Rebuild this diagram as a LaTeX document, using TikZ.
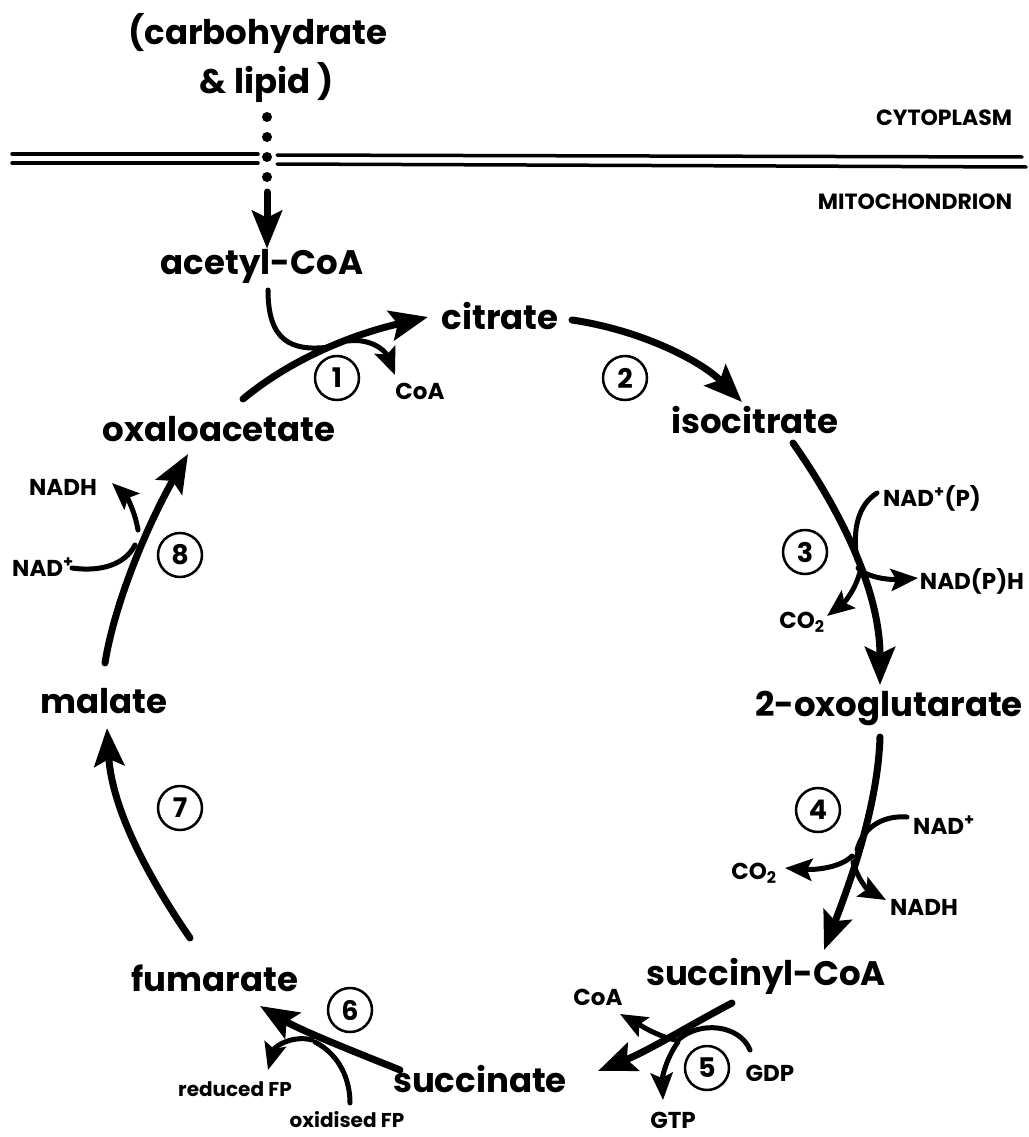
\documentclass[tikz,border=0pt]{standalone}
\usepackage{fontspec}
\setmainfont{Poppins}
\usetikzlibrary{arrows.meta}
\begin{document}
\begin{tikzpicture}[x=1pt,y=-1pt,
  met/.style={font=\fontsize{34}{38}\selectfont\bfseries, inner sep=0pt},
  sm/.style={font=\fontsize{23}{25}\selectfont\bfseries, inner sep=0pt},
  fp/.style={font=\fontsize{20}{22}\selectfont\bfseries, inner sep=0pt},
  comp/.style={font=\fontsize{22}{24}\selectfont\bfseries, inner sep=0pt},
  num/.style={circle, draw, line width=2.5pt, minimum size=44pt, inner sep=0pt, font=\fontsize{27}{27}\selectfont\bfseries},
  main/.style={line width=7pt, line cap=round, -{Stealth[length=38pt,width=30pt,inset=7pt]}},
  side/.style={line width=5pt, line cap=round, -{Stealth[length=27pt,width=22pt,inset=5pt]}},
  plain/.style={line width=5pt, line cap=round},
  memb/.style={line width=3.5pt, line cap=round}]
\useasboundingbox (0,0) rectangle (1028,1137);

% compartments
\draw[memb] (12,154) -- (258,154);
\draw[memb] (12,163) -- (258,163);
\draw[memb] (277,155) -- (1022,157);
\draw[memb] (277,164) -- (1026,167);
\node[comp] (cyto) at (944,118) {CYTOPLASM};
\node[comp] (mito) at (915,202) {MITOCHONDRION};

% metabolites
\node[met] (carb) at (258,33) {(carbohydrate};
\node[met] (lip) at (267,83) {\& lipid )};
\node[met] (acet) at (262,266) {acetyl-CoA};
\node[met] (cit) at (500,316) {citrate};
\node[met] (iso) at (755,420) {isocitrate};
\node[met] (oxg) at (889,708) {2-oxoglutarate};
\node[met] (sca) at (766,976) {succinyl-CoA};
\node[met] (suc) at (480,1079) {succinate};
\node[met] (fum) at (215,978) {fumarate};
\node[met] (mal) at (104,701) {malate};
\node[met] (oaa) at (219,429) {oxaloacetate};

% numbers
\node[num] (n1) at (337,378) {1};
\node[num] (n2) at (625,378) {2};
\node[num] (n3) at (805,552) {3};
\node[num] (n4) at (818,810) {4};
\node[num] (n5) at (707,1068) {5};
\node[num] (n6) at (350,1010) {6};
\node[num] (n7) at (180,808) {7};
\node[num] (n8) at (180,555) {8};

% small labels
\node[sm] (coa1) at (420,391) {CoA};
\node[sm] (nadp) at (932,498) {NAD\textsuperscript{+}(P)};
\node[sm] (nadph) at (972,581) {NAD(P)H};
\node[sm] (co2a) at (802,622) {CO\textsubscript{2}};
\node[sm] (nad4) at (944,825) {NAD\textsuperscript{+}};
\node[sm] (co2b) at (754,873) {CO\textsubscript{2}};
\node[sm] (nadh4) at (924,907) {NADH};
\node[sm] (coa5) at (598,997) {CoA};
\node[sm] (gdp) at (770,1073) {GDP};
\node[sm] (gtp) at (673,1120) {GTP};
\node[fp] (red) at (235,1089) {reduced FP};
\node[fp] (oxi) at (347,1120) {oxidised FP};
\node[sm] (nadh8) at (63,487) {NADH};
\node[sm] (nad8) at (43,567) {NAD\textsuperscript{+}};

% entry
\draw[line width=10pt, line cap=round, dash pattern=on 0pt off 20pt] (267,117) -- (267,178);
\coordinate (e0) at (267,192);
\draw[main] (e0) -- (acet.north -| e0);

% step 1
\coordinate (s1a) at (243,399);
\coordinate (s1b) at (428,317);
\draw[main] (s1a) .. controls (290,360) and (350,335) .. (s1b);
\draw[plain] (268,290) .. controls (268,340) and (290,352) .. (330,347);
\draw[side] (348,341) .. controls (370,338) and (385,350) .. (395,375);

% step 2
\draw[main] (572,320) .. controls (640,330) and (700,360) .. (742,402);

% step 3
\draw[main] (793,443) .. controls (840,510) and (880,590) .. (880,685);
\draw[plain] (877,493) .. controls (858,505) and (852,530) .. (857,560);
\draw[side] (858,568) .. controls (868,578) and (890,580) .. (918,578);
\draw[side] (860,572) .. controls (855,590) and (845,602) .. (827,616);

% step 4
\draw[main] (880,737) .. controls (878,800) and (855,870) .. (824,950);
\draw[plain] (907,817) .. controls (880,815) and (862,830) .. (857,850);
\draw[side] (852,856) .. controls (840,868) and (815,870) .. (785,868);
\draw[side] (853,862) .. controls (858,880) and (868,890) .. (886,900);

% step 5
\draw[main] (732,1003) .. controls (690,1025) and (650,1050) .. (598,1071);
\draw[side] (675,1040) .. controls (655,1035) and (640,1025) .. (620,1014);
\draw[plain] (750,1050) .. controls (740,1025) and (700,1020) .. (678,1040);
\draw[side] (678,1042) .. controls (665,1060) and (662,1080) .. (663,1100);

% step 6
\draw[main] (400,1070) .. controls (350,1050) and (300,1030) .. (260,1006);
\draw[plain] (350,1103) .. controls (350,1080) and (340,1055) .. (315,1042);
\draw[side] (312,1040) .. controls (295,1035) and (275,1045) .. (268,1070);

% step 7
\draw[main] (190,938) .. controls (150,880) and (112,810) .. (107,728);

% step 8
\draw[main] (105,663) .. controls (115,600) and (150,520) .. (188,454);
\draw[side] (138,530) .. controls (135,512) and (127,497) .. (112,483);
\draw[plain] (72,568) .. controls (100,572) and (125,565) .. (135,545);
\end{tikzpicture}
\end{document}
